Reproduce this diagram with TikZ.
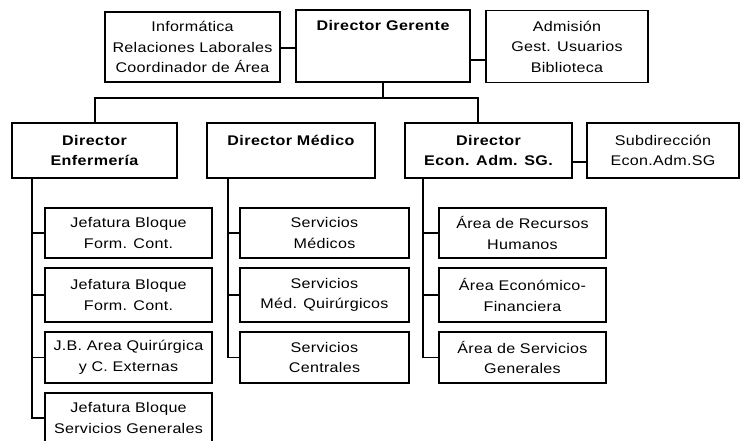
\documentclass[tikz,border=0pt]{standalone}
\usepackage{fontspec}
\setmainfont{Liberation Sans}[FakeStretch=1.15,LetterSpace=2]
\newfontfamily\boldsp{Liberation Sans Bold}[FakeStretch=1.15,LetterSpace=3]
\begin{document}
\begin{tikzpicture}[x=1pt,y=-1pt,
  box/.style={draw,line width=1.2pt,rectangle,align=center,inner sep=0pt,
    font=\fontsize{14}{20.5}\selectfont},
  bbox/.style={box,font=\fontsize{14}{20.5}\boldsp},
  conn/.style={line width=1.1pt}]
\useasboundingbox (0,0) rectangle (742,441);
\clip (0,0) rectangle (742,441);
% top row
\node[box,minimum width=175pt,minimum height=70pt] (info) at (192.5,47) {Informática\\Relaciones Laborales\\Coordinador de Área};
\node[bbox,minimum width=174pt,minimum height=72pt] (dg) at (383,46) {Director Gerente\\\mbox{}\\\mbox{}};
\node[box,minimum width=162pt,minimum height=72pt] (adm) at (567,46.5) {Admisión\\Gest. Usuarios\\Biblioteca};
% second row
\node[bbox,minimum width=165pt,minimum height=55pt] (enf) at (94.5,150.5) {Director\\Enfermería};
\node[bbox,minimum width=168pt,minimum height=55pt] (med) at (291,150.5) {Director Médico\\\mbox{}};
\node[bbox,minimum width=167pt,minimum height=55pt] (econ) at (488.5,150.5) {Director\\Econ. Adm. SG.};
\node[box,minimum width=152pt,minimum height=55pt] (sub) at (663,150.5) {Subdirección\\Econ.Adm.SG};
% Enfermeria children
\node[box,minimum width=167pt,minimum height=50pt] (e1) at (128.5,233) {Jefatura Bloque\\Form. Cont.};
\node[box,minimum width=167pt,minimum height=54pt] (e2) at (128.5,295) {Jefatura Bloque\\Form. Cont.};
\node[box,minimum width=167pt,minimum height=51pt] (e3) at (128.5,357.5) {J.B. Area Quirúrgica\\y C. Externas};
\node[box,minimum width=167pt,minimum height=50pt] (e4) at (128.5,418) {Jefatura Bloque\\Servicios Generales};
% Medico children
\node[box,minimum width=169pt,minimum height=50pt] (m1) at (324.5,233) {Servicios\\Médicos};
\node[box,minimum width=169pt,minimum height=54pt] (m2) at (324.5,295) {Servicios\\Méd. Quirúrgicos};
\node[box,minimum width=169pt,minimum height=51pt] (m3) at (324.5,357.5) {Servicios\\Centrales};
% Econ children
\node[box,minimum width=167pt,minimum height=50pt] (c1) at (522.5,233) {Área de Recursos\\Humanos};
\node[box,minimum width=167pt,minimum height=54pt] (c2) at (522.5,295) {Área Económico-\\Financiera};
\node[box,minimum width=167pt,minimum height=51pt] (c3) at (522.5,357.5) {Área de Servicios\\Generales};
% connectors top
\draw[conn] (info.east |- 0,48) -- (dg.west |- 0,48);
\draw[conn] (dg.east |- 0,60) -- (adm.west |- 0,60);
\coordinate (busL) at (95,98);
\coordinate (busR) at (478,98);
\draw[conn] (dg.south) -- (dg.south |- busL);
\draw[conn] (busL |- enf.north) -- (busL) -- (busR) -- (busR |- econ.north);
\draw[conn] (econ.east |- 0,162) -- (sub.west |- 0,162);
% Enfermeria tree
\coordinate (ea) at (32,178);
\draw[conn] (ea) |- (e4.west);
\draw[conn] (ea |- e1.west) -- (e1.west);
\draw[conn] (ea |- e2.west) -- (e2.west);
\draw[conn] (ea |- e3.west) -- (e3.west);
% Medico tree
\coordinate (ma) at (228,178);
\draw[conn] (ma) |- (m3.west);
\draw[conn] (ma |- m1.west) -- (m1.west);
\draw[conn] (ma |- m2.west) -- (m2.west);
% Econ tree
\coordinate (ca) at (423,178);
\draw[conn] (ca) |- (c3.west);
\draw[conn] (ca |- c1.west) -- (c1.west);
\draw[conn] (ca |- c2.west) -- (c2.west);
\end{tikzpicture}
\end{document}
